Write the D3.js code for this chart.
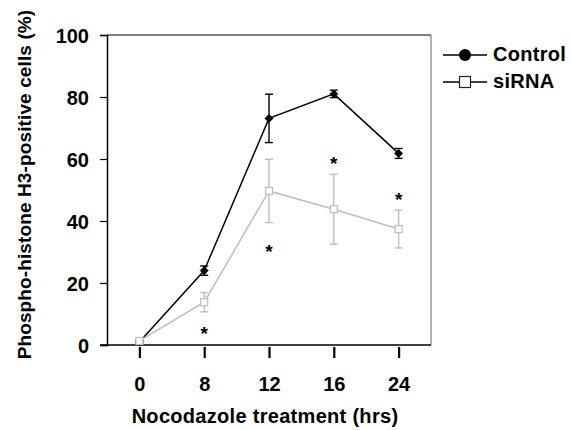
<!DOCTYPE html>
<html>
<head>
<meta charset="utf-8">
<script src="https://cdn.jsdelivr.net/npm/d3@7/dist/d3.min.js"></script>
<style>
  html, body { margin: 0; padding: 0; background: #fff; }
  svg text { font-family: Arial, "Liberation Sans", Helvetica, sans-serif; font-weight: bold; fill: #000; }
</style>
</head>
<body>
<svg id="chart" width="571" height="430"></svg>
<script>
const categories = ["0", "8", "12", "16", "24"];
const controlMean = [1.0, 24.0, 73.1, 81.0, 61.8];
const controlErr  = [0.5, 1.5, 7.8, 1.2, 1.6];
const sirnaMean   = [1.3, 13.8, 49.7, 43.8, 37.4];
const sirnaErr    = [0.5, 3.1, 10.2, 11.3, 6.1];
const starCategories = ["8", "12", "16", "24"];
const starLevels = [5.2, 31.5, 59.9, 48.3];
const yTicks = [0, 20, 40, 60, 80, 100];
const seriesNames = ["Control", "siRNA"];

(function () {
const svg = d3.select("#chart");
const pL = 107, pR = 431, pT = 35, pB = 345;
const FS = 20;

const x = d3.scalePoint().domain(categories).range([pL, pR]).padding(0.5);
const y = d3.scaleLinear().domain([0, 100]).range([pB, pT]);

// frame: top and right in gray
svg.append("line").attr("x1", pL).attr("x2", pR).attr("y1", pT).attr("y2", pT)
  .attr("stroke", "#555").attr("stroke-width", 1.3);
svg.append("line").attr("x1", pR).attr("x2", pR).attr("y1", pT).attr("y2", pB)
  .attr("stroke", "#888").attr("stroke-width", 1.3);

// y axis
const yAxis = svg.append("g").attr("transform", `translate(${pL},0)`)
  .call(d3.axisLeft(y).tickValues(yTicks).tickSize(7).tickPadding(11));
yAxis.select(".domain").attr("stroke", "#000").attr("stroke-width", 1.5);
yAxis.selectAll(".tick line").attr("stroke", "#000").attr("stroke-width", 1.2);
yAxis.selectAll(".tick text").style("font-size", FS + "px").attr("dy", "0.36em");

// bottom axis line
svg.append("line").attr("x1", pL - 7).attr("x2", pR).attr("y1", pB).attr("y2", pB)
  .attr("stroke", "#000").attr("stroke-width", 1.5);

// x axis ticks
const xAxis = svg.append("g").attr("transform", `translate(0,${pB + 2})`)
  .call(d3.axisBottom(x).tickSize(11).tickPadding(18.3));
xAxis.select(".domain").remove();
xAxis.selectAll(".tick line").attr("stroke", "#000").attr("stroke-width", 2.2);
xAxis.selectAll(".tick text").style("font-size", FS + "px");

// axis titles
svg.append("text").attr("x", 265).attr("y", 423).attr("text-anchor", "middle")
  .style("font-size", FS + "px").style("letter-spacing", "0.3px").text("Nocodazole treatment (hrs)");
svg.append("text").attr("transform", "translate(31,184.5) rotate(-90)").attr("text-anchor", "middle")
  .style("font-size", "19px").style("letter-spacing", "0.12px").text("Phospho-histone H3-positive cells (%)");

function drawSeries(means, errs, color, kind) {
  const pts = categories.map((c, i) => ({ c, m: means[i], e: errs[i] }));
  const line = d3.line().x(d => x(d.c)).y(d => y(d.m));
  svg.append("path").datum(pts).attr("d", line).attr("fill", "none")
    .attr("stroke", color).attr("stroke-width", 1.5);
  const eb = svg.append("g").attr("stroke", color).attr("stroke-width", 1.4);
  pts.forEach(d => {
    const cx = x(d.c);
    eb.append("line").attr("x1", cx).attr("x2", cx).attr("y1", y(d.m + d.e)).attr("y2", y(d.m - d.e));
    eb.append("line").attr("x1", cx - 4).attr("x2", cx + 4).attr("y1", y(d.m + d.e)).attr("y2", y(d.m + d.e));
    eb.append("line").attr("x1", cx - 4).attr("x2", cx + 4).attr("y1", y(d.m - d.e)).attr("y2", y(d.m - d.e));
  });
  if (kind === "diamond") {
    svg.append("g").selectAll("path").data(pts).join("path")
      .attr("d", "M0,-4L4,0L0,4L-4,0Z")
      .attr("transform", d => `translate(${x(d.c)},${y(d.m)})`)
      .attr("fill", "#000").attr("stroke", "#000").attr("stroke-width", 0.8);
  } else {
    svg.append("g").selectAll("rect").data(pts).join("rect")
      .attr("x", d => x(d.c) - 3.5).attr("y", d => y(d.m) - 3.5)
      .attr("width", 7).attr("height", 7)
      .attr("fill", "#fff").attr("stroke", color).attr("stroke-width", 1.2);
  }
}

drawSeries(controlMean, controlErr, "#000", "diamond");
drawSeries(sirnaMean, sirnaErr, "#bdbdbd", "square");

// significance stars
svg.append("g").selectAll("text").data(starCategories).join("text")
  .attr("x", d => x(d)).attr("y", (d, i) => y(starLevels[i]) + 11)
  .attr("text-anchor", "middle").style("font-size", "19px").text("*");

// legend
const lg = svg.append("g");
[55, 82].forEach((ly, i) => {
  lg.append("line").attr("x1", 443).attr("x2", 487).attr("y1", ly).attr("y2", ly)
    .attr("stroke", "#000").attr("stroke-width", 1.5);
  if (i === 0) {
    lg.append("circle").attr("cx", 465).attr("cy", ly).attr("r", 6).attr("fill", "#000");
  } else {
    lg.append("rect").attr("x", 459.5).attr("y", ly - 5.5).attr("width", 11).attr("height", 11)
      .attr("fill", "#fff").attr("stroke", "#222").attr("stroke-width", 1.2);
  }
  lg.append("text").attr("x", 493).attr("y", ly + 6).style("font-size", FS + "px")
    .style("letter-spacing", "0.3px").text(seriesNames[i]);
});
})();
</script>
</body>
</html>
